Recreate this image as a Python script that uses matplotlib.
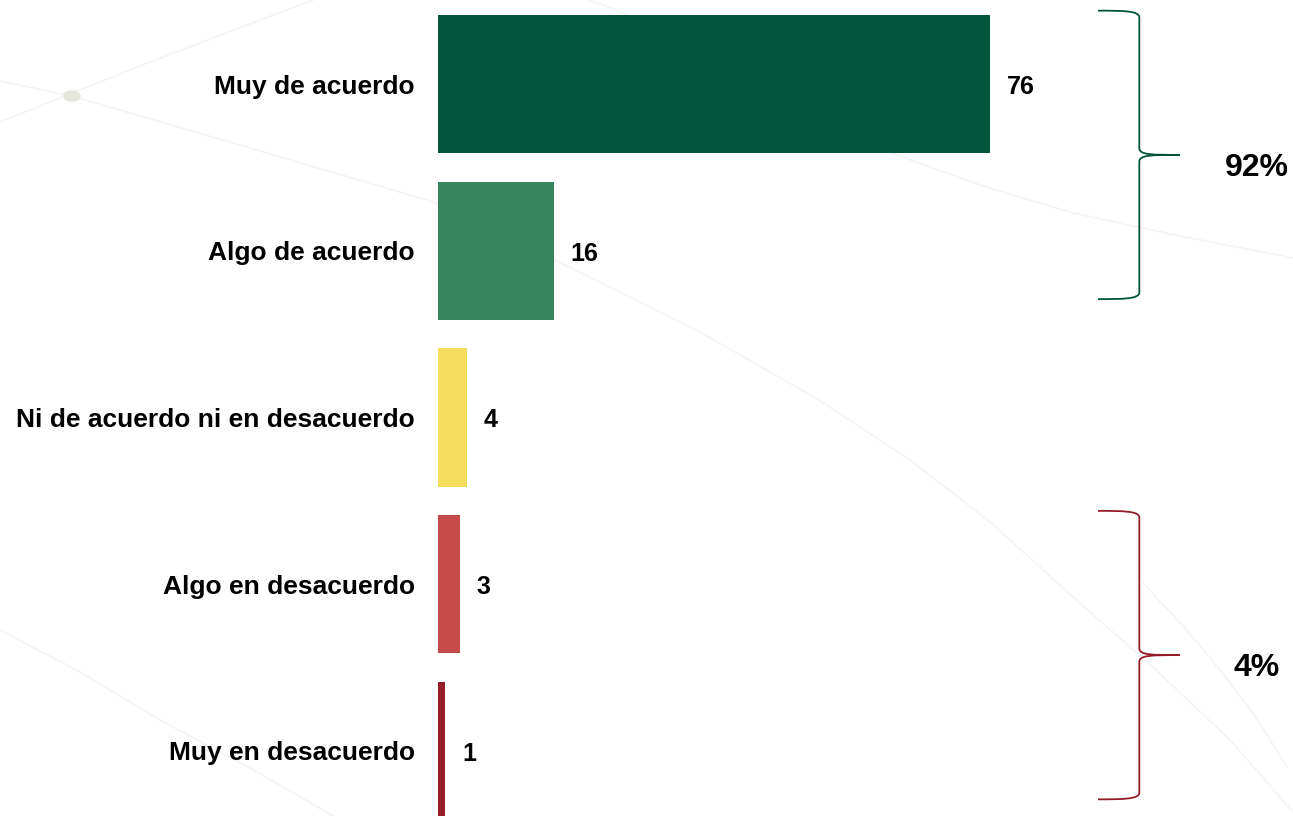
import matplotlib
matplotlib.use("Agg")
import matplotlib.pyplot as plt
from matplotlib.path import Path
from matplotlib.patches import PathPatch, Circle
from matplotlib.lines import Line2D

plt.rcParams['font.family'] = ['Liberation Sans', 'DejaVu Sans']

# --- Datos ---
categorias = ["Muy de acuerdo", "Algo de acuerdo", "Ni de acuerdo ni en desacuerdo",
              "Algo en desacuerdo", "Muy en desacuerdo"]
valores = [76, 16, 4, 3, 1]
colores = ["#02553B", "#37845F", "#F4DC5C", "#C44B48", "#961E28"]

# grupos con llave
grupo_acuerdo = [0, 1]
grupo_desacuerdo = [3, 4]
color_acuerdo = "#02553B"
color_desacuerdo = "#961E28"

W, H = 1293, 816
fig = plt.figure(figsize=(W / 100, H / 100), dpi=100)
fig.patch.set_facecolor("white")

# --- decoracion de fondo (lineas tenues) ---
def fpx(pts):
    return [p[0] / W for p in pts], [1 - p[1] / H for p in pts]

curvas = [
    [(0, 122), (150, 62), (313, 0)],
    [(0, 81), (72, 96), (250, 148), (437, 203), (577, 271), (700, 332), (819, 400),
     (910, 460), (989, 521), (1073, 597), (1154, 668), (1230, 740), (1293, 812)],
    [(590, 0), (623, 13), (760, 85), (883, 150), (980, 185), (1073, 213), (1180, 236), (1293, 258)],
    [(0, 630), (80, 672), (160, 720), (250, 768), (333, 816)],
    [(1143, 583), (1185, 628), (1220, 670), (1255, 716), (1287, 767)],
]
for c in curvas:
    xs, ys = fpx(c)
    fig.add_artist(Line2D(xs, ys, transform=fig.transFigure, color="#f5f5f5",
                          lw=1.3, zorder=-2))
fig.add_artist(Circle((72 / W, 1 - 96 / H), 8 / W, transform=fig.transFigure,
                      color="#e3e8da", zorder=-1))

# --- grafico ---
ax = fig.add_axes([438 / W, 0, (W - 438) / W, 1])
ax.patch.set_visible(False)

y = list(range(len(categorias)))
ax.barh(y, valores, height=0.83, color=colores)

ax.set_xlim(0, (W - 438) / 7.26)
ax.set_ylim(4.39, -0.504)

ax.set_yticks(y)
ax.set_yticklabels(categorias, fontsize=19, fontweight="bold")
ax.tick_params(axis="y", length=0, pad=16.5)
ax.set_xticks([])
for s in ax.spines.values():
    s.set_visible(False)

for yi, v in zip(y, valores):
    ax.annotate(str(v), (v, yi), xytext=(12, -2), textcoords="offset points",
                va="center", ha="left", fontsize=18, fontweight="bold")


def llave(ax, y0, y1, color, x0=90.9, xm=96.6, xt=102.2, r=0.04):
    ym = (y0 + y1) / 2
    verts = [
        (x0, y0), (x0 + 0.6 * (xm - x0), y0), (xm, y0), (xm, y0 + r),
        (xm, ym - r),
        (xm, ym), (xm + 0.3 * (xt - xm), ym), (xt, ym),
        (xm + 0.3 * (xt - xm), ym), (xm, ym), (xm, ym + r),
        (xm, y1 - r),
        (xm, y1), (x0 + 0.6 * (xm - x0), y1), (x0, y1),
    ]
    codes = [Path.MOVETO, Path.CURVE4, Path.CURVE4, Path.CURVE4,
             Path.LINETO,
             Path.CURVE4, Path.CURVE4, Path.CURVE4,
             Path.CURVE4, Path.CURVE4, Path.CURVE4,
             Path.LINETO,
             Path.CURVE4, Path.CURVE4, Path.CURVE4]
    ax.add_patch(PathPatch(Path(verts, codes), fill=False, edgecolor=color,
                           lw=1.3, clip_on=False))
    return ym


for grupo, col in [(grupo_acuerdo, color_acuerdo), (grupo_desacuerdo, color_desacuerdo)]:
    ym = llave(ax, grupo[0] - 0.44, grupo[-1] + 0.29, col)
    total = sum(valores[i] for i in grupo)
    ax.text(112.8, ym + 0.08, f"{total}%", ha="center", va="center",
            fontsize=23, fontweight="bold")

fig.savefig("out.png", dpi=100)
